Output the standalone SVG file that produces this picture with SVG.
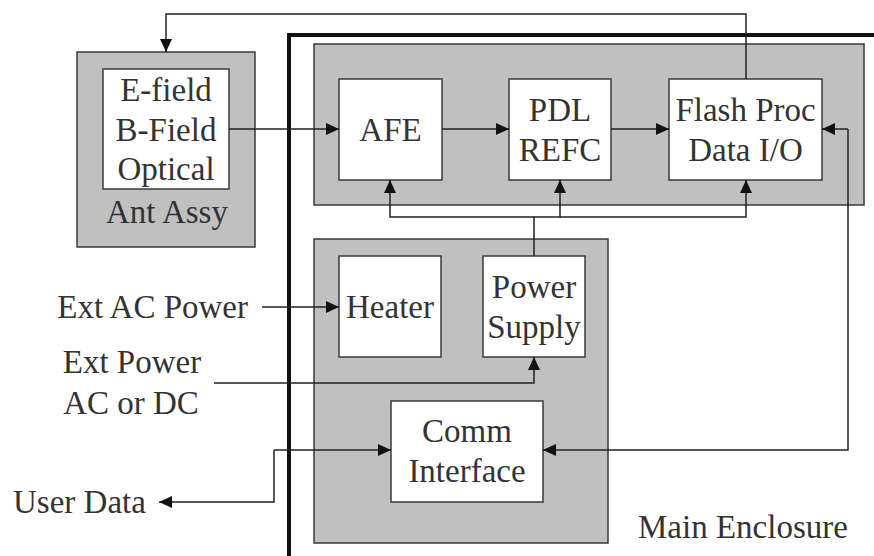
<svg xmlns="http://www.w3.org/2000/svg" width="874" height="556" viewBox="0 0 874 556">
<style>
.grp{fill:#c0c0c0;stroke:#3a3a3a;stroke-width:1.5}
.box{fill:#fff;stroke:#3a3a3a;stroke-width:1.5}
.t{font-family:"Liberation Serif","Times New Roman",serif;font-size:33px;fill:#333}
.m{text-anchor:middle}
.c{fill:none;stroke:#222;stroke-width:1.5}
</style>
<defs>
<marker id="ah" markerUnits="userSpaceOnUse" markerWidth="14" markerHeight="12" refX="13" refY="6" orient="auto">
<path d="M0,0 L13,6 L0,12 Z" fill="#111"/>
</marker>
</defs>
<rect width="874" height="556" fill="#fff"/>
<g id="main-enclosure">
<path d="M289,556 V35 H874" fill="none" stroke="#111" stroke-width="4"/>
<text class="t" x="638" y="538">Main Enclosure</text>
</g>
<g id="ant-assy">
<rect class="grp" x="77" y="52" width="178" height="195"/>
<rect class="box" x="103" y="69" width="126" height="120"/>
<text class="t m" x="166" y="101">E-field</text>
<text class="t m" x="166" y="141">B-Field</text>
<text class="t m" x="166" y="180">Optical</text>
<text class="t m" x="167" y="223">Ant Assy</text>
</g>
<g id="top-group"><rect class="grp" x="314" y="44" width="550" height="161"/></g>
<g id="bottom-group"><rect class="grp" x="314" y="239" width="294" height="304"/></g>
<g id="afe">
<rect class="box" x="339" y="79" width="103" height="101"/>
<text class="t m" x="390.5" y="141">AFE</text>
</g>
<g id="pdl">
<rect class="box" x="509" y="79" width="102" height="101"/>
<text class="t m" x="560" y="121">PDL</text>
<text class="t m" x="560" y="161">REFC</text>
</g>
<g id="flash">
<rect class="box" x="669" y="79" width="153" height="101"/>
<text class="t m" x="745.5" y="121">Flash Proc</text>
<text class="t m" x="745.5" y="161">Data I/O</text>
</g>
<g id="heater">
<rect class="box" x="339" y="256" width="102" height="101"/>
<text class="t m" x="390" y="318">Heater</text>
</g>
<g id="power-supply">
<rect class="box" x="483" y="256" width="102" height="101"/>
<text class="t m" x="534" y="298">Power</text>
<text class="t m" x="534" y="338">Supply</text>
</g>
<g id="comm">
<rect class="box" x="391" y="401" width="152" height="101"/>
<text class="t m" x="467" y="442">Comm</text>
<text class="t m" x="467" y="482">Interface</text>
</g>
<g id="labels">
<text class="t" x="248" y="318" text-anchor="end">Ext AC Power</text>
<text class="t m" x="132" y="373">Ext Power</text>
<text class="t m" x="131" y="414">AC or DC</text>
<text class="t" x="13" y="513">User Data</text>
</g>
<g id="connectors">
<path class="c" d="M746,79 V14 H166 V52" marker-end="url(#ah)"/>
<path class="c" d="M229,129 H339" marker-end="url(#ah)"/>
<path class="c" d="M442,129 H509" marker-end="url(#ah)"/>
<path class="c" d="M611,129 H669" marker-end="url(#ah)"/>
<path class="c" d="M534,256 V217 H390 V180" marker-end="url(#ah)"/>
<path class="c" d="M534,217 H560 V180" marker-end="url(#ah)"/>
<path class="c" d="M560,217 H746 V180" marker-end="url(#ah)"/>
<path class="c" d="M848,129 V450 H543" marker-end="url(#ah)"/>
<path class="c" d="M848,129 H822" marker-end="url(#ah)"/>
<path class="c" d="M262,307 H339" marker-end="url(#ah)"/>
<path class="c" d="M214,383 H534 V357" marker-end="url(#ah)"/>
<path class="c" d="M274,450 H391" marker-end="url(#ah)"/>
<path class="c" d="M274,450 V502 H159" marker-end="url(#ah)"/>
</g>
</svg>
